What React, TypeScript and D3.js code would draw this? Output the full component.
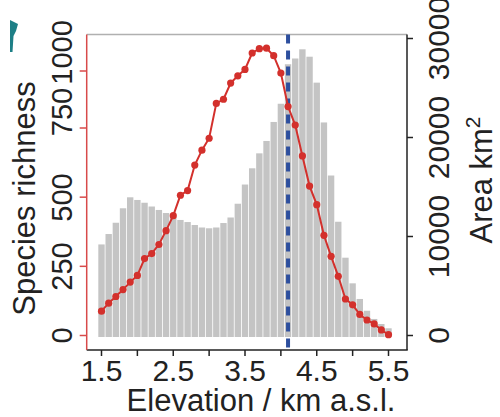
import React, { useEffect, useRef } from 'react';
import * as d3 from 'd3';

// elevation bins, km a.s.l. (0.1 km steps)
const elevations = d3.range(41).map(i => +(1.5 + i * 0.1).toFixed(1));

// species richness per elevation bin (red line)
const richness = [
  88, 117, 141, 166, 193, 217, 278, 296, 329, 379,
  433, 507, 524, 616, 670, 713, 858, 876, 947, 979,
  1007, 1079, 1098, 1100, 1067, 991, 844, 763, 649, 540,
  473, 362, 286, 214, 132, 111, 76, 56, 42, 20, 3,
];

// land area per elevation bin, km2 (grey bars)
const area = [
  9200, 10250, 11390, 12850, 13960, 13690, 13410, 13030, 12680, 12370,
  12020, 11670, 11460, 11160, 10910, 10830, 10910, 11360, 11920, 13310,
  15250, 16890, 18400, 19650, 21570, 23410, 27400, 27980, 28910, 28160,
  25540, 21520, 16160, 11490, 7860, 5270, 3690, 2500, 1670, 1160, 730,
];

const xTicks = [1.5, 2, 2.5, 3, 3.5, 4, 4.5, 5, 5.5];
const xLabels = [1.5, 2.5, 3.5, 4.5, 5.5];
const leftTicks = [0, 250, 500, 750, 1000];
const rightTicks = [0, 10000, 20000, 30000];
const threshold = 4.1;

const W = 500, H = 417;
const font = '"Liberation Sans", Arial, Helvetica, sans-serif';

function Chart() {
  const ref = useRef<SVGSVGElement>(null);

  useEffect(() => {
    const svg = d3.select(ref.current);
    svg.selectAll('*').remove();

    const box = { left: 86.7, right: 407, top: 34.5, bottom: 350 };

    const x = d3.scaleLinear().domain([1.5, 5.5]).range([101.5, 388.5]);
    // the left axis in the figure has a shorter last step, so piecewise
    const yL = d3.scaleLinear().domain([0, 750, 1000]).range([335.5, 128, 71]);
    // its upper labels sit a bit above their ticks in the figure
    const yLabel = d3.scaleLinear().domain([0, 500, 750, 1000]).range([335.5, 197.5, 112, 52.5]);
    const yR = d3.scaleLinear().domain([0, 30000]).range([335.5, 38.5]);

    svg.append('rect').attr('width', W).attr('height', H).attr('fill', 'white');

    // bits of a neighbouring panel cut off at the top left
    svg.append('path')
      .attr('d', 'M10,20 L18,24 L16,31 L13.5,36 L12.5,52 L10,52 Z')
      .attr('fill', '#1d7f86');

    // bars
    const half = 0.05;
    svg.append('g')
      .selectAll('rect')
      .data(area)
      .join('rect')
      .attr('x', (d, i) => x(elevations[i] - half) + 0.4)
      .attr('width', (d, i) => x(elevations[i] + half) - x(elevations[i] - half) - 0.8)
      .attr('y', d => yR(d))
      .attr('height', d => yR(0) + 1.5 - yR(d))
      .attr('fill', '#c4c4c4');

    // frame
    svg.append('line')
      .attr('x1', box.left).attr('x2', box.right)
      .attr('y1', box.top).attr('y2', box.top)
      .attr('stroke', '#b0b0b0').attr('stroke-width', 1.5);
    svg.append('line')
      .attr('x1', box.left).attr('x2', box.right + 0.75)
      .attr('y1', box.bottom).attr('y2', box.bottom)
      .attr('stroke', '#222').attr('stroke-width', 1.5);
    svg.append('line')
      .attr('x1', box.right).attr('x2', box.right)
      .attr('y1', box.top).attr('y2', box.bottom)
      .attr('stroke', '#222').attr('stroke-width', 1.5);
    svg.append('line')
      .attr('x1', box.left).attr('x2', box.left)
      .attr('y1', box.top).attr('y2', box.bottom)
      .attr('stroke', '#d84a4a').attr('stroke-width', 1.5);

    // threshold line
    svg.append('line')
      .attr('x1', x(threshold)).attr('x2', x(threshold))
      .attr('y1', box.top).attr('y2', box.bottom - 2)
      .attr('stroke', '#2d4f9e').attr('stroke-width', 4)
      .attr('stroke-dasharray', '9,7');

    // richness line + points
    const line = d3.line<number>()
      .x((d, i) => x(elevations[i]))
      .y(d => yL(d));
    svg.append('path')
      .datum(richness)
      .attr('d', line)
      .attr('fill', 'none')
      .attr('stroke', '#d3302c')
      .attr('stroke-width', 2);
    svg.append('g')
      .selectAll('circle')
      .data(richness)
      .join('circle')
      .attr('cx', (d, i) => x(elevations[i]))
      .attr('cy', d => yL(d))
      .attr('r', 3.6)
      .attr('fill', '#d3302c');

    // bottom axis
    svg.append('g')
      .selectAll('line')
      .data(xTicks)
      .join('line')
      .attr('x1', d => x(d)).attr('x2', d => x(d))
      .attr('y1', box.bottom).attr('y2', box.bottom + 6)
      .attr('stroke', '#222').attr('stroke-width', 1.5);
    svg.append('g')
      .attr('font-family', font)
      .attr('font-size', 30)
      .attr('fill', '#222')
      .attr('text-anchor', 'middle')
      .selectAll('text')
      .data(xLabels)
      .join('text')
      .attr('x', d => x(d))
      .attr('y', 380.5)
      .text(d => d.toFixed(1));
    svg.append('text')
      .attr('x', 261).attr('y', 410.5)
      .attr('font-family', font).attr('font-size', 31)
      .attr('fill', '#222').attr('text-anchor', 'middle')
      .text('Elevation / km a.s.l.');

    // left axis
    svg.append('g')
      .selectAll('line')
      .data(leftTicks)
      .join('line')
      .attr('x1', box.left - 7).attr('x2', box.left)
      .attr('y1', d => yL(d)).attr('y2', d => yL(d))
      .attr('stroke', '#d84a4a').attr('stroke-width', 1.5);
    svg.append('g')
      .attr('font-family', font)
      .attr('font-size', 29)
      .attr('fill', '#222')
      .attr('text-anchor', 'middle')
      .selectAll('text')
      .data(leftTicks)
      .join('text')
      .attr('transform', d => `translate(72,${yLabel(d)}) rotate(-90)`)
      .text(d => d);
    svg.append('text')
      .attr('transform', 'translate(35,198.5) rotate(-90)')
      .attr('font-family', font).attr('font-size', 31)
      .attr('fill', '#222').attr('text-anchor', 'middle')
      .text('Species richness');

    // right axis
    svg.append('g')
      .selectAll('line')
      .data(rightTicks)
      .join('line')
      .attr('x1', box.right).attr('x2', box.right + 6)
      .attr('y1', d => yR(d)).attr('y2', d => yR(d))
      .attr('stroke', '#222').attr('stroke-width', 1.5);
    svg.append('g')
      .attr('font-family', font)
      .attr('font-size', 30)
      .attr('fill', '#222')
      .attr('text-anchor', 'middle')
      .selectAll('text')
      .data(rightTicks)
      .join('text')
      .attr('transform', d => `translate(449,${yR(d)}) rotate(-90)`)
      .text(d => d);
    const areaTitle = svg.append('text')
      .attr('transform', 'translate(492,180) rotate(-90)')
      .attr('font-family', font).attr('font-size', 31)
      .attr('fill', '#222').attr('text-anchor', 'middle');
    areaTitle.append('tspan').text('Area km');
    areaTitle.append('tspan')
      .attr('font-size', 21)
      .attr('dy', -12)
      .text('2');
  }, []);

  return <svg ref={ref} width={W} height={H} style={{ display: 'block' }} />;
}

export default function App() {
  return (
    <div style={{ position: 'absolute', left: 0, top: 0, background: 'white' }}>
      <Chart />
    </div>
  );
}
